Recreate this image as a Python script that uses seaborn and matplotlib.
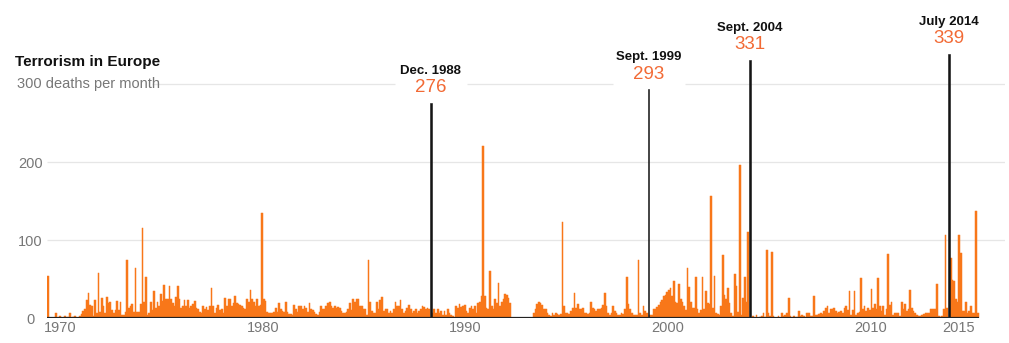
import numpy as np
import pandas as pd
import seaborn as sns
import matplotlib.pyplot as plt
from matplotlib.transforms import blended_transform_factory, ScaledTranslation

# Monthly deaths from terrorist attacks in Europe, Jan 1970 - Dec 2015
deaths_1970s = [
    54, 0, 0, 0, 0, 6, 0, 2, 0, 0, 2, 0,
    1, 7, 0, 1, 2, 0, 0, 3, 5, 9, 12, 23,
    32, 17, 16, 3, 23, 6, 58, 8, 26, 15, 6, 27,
    19, 20, 10, 6, 10, 22, 10, 20, 4, 4, 8, 75,
    13, 15, 18, 8, 64, 8, 8, 18, 115, 20, 52, 4,
    6, 20, 10, 34, 13, 20, 15, 31, 22, 42, 24, 24,
    41, 24, 19, 15, 27, 41, 25, 13, 15, 23, 15, 23,
    13, 15, 18, 22, 13, 11, 8, 6, 15, 12, 14, 10,
    15, 38, 15, 6, 13, 17, 10, 12, 6, 26, 15, 24,
    25, 15, 19, 28, 19, 18, 17, 15, 13, 11, 25, 21,
]
deaths_1980s = [
    36, 24, 21, 16, 24, 15, 17, 134, 24, 22, 8, 7,
    7, 6, 8, 13, 8, 19, 11, 9, 8, 20, 8, 5,
    5, 4, 17, 11, 8, 15, 16, 11, 16, 13, 8, 19,
    11, 10, 8, 5, 4, 8, 16, 11, 11, 15, 19, 20,
    15, 13, 15, 13, 14, 13, 9, 7, 6, 8, 11, 19,
    10, 24, 20, 24, 24, 15, 15, 11, 11, 4, 75, 21,
    9, 6, 6, 21, 11, 23, 27, 9, 11, 12, 6, 9,
    6, 11, 20, 15, 16, 23, 11, 6, 9, 13, 17, 12,
    6, 9, 11, 6, 9, 11, 15, 14, 11, 13, 11, 276,
    6, 11, 7, 11, 6, 9, 4, 9, 4, 11, 6, 4,
]
deaths_1990s = [
    2, 0, 16, 13, 18, 14, 16, 17, 9, 6, 13, 15,
    11, 16, 7, 19, 21, 28, 221, 28, 13, 11, 60, 15,
    11, 24, 19, 45, 15, 21, 24, 31, 30, 26, 19, 0,
    0, 0, 0, 0, 0, 0, 0, 0, 0, 0, 0, 0,
    6, 11, 18, 21, 19, 17, 12, 11, 6, 4, 3, 6,
    4, 6, 5, 4, 5, 123, 16, 6, 7, 5, 9, 13,
    32, 13, 18, 11, 12, 13, 6, 6, 5, 6, 20, 13,
    11, 9, 11, 12, 13, 17, 32, 16, 6, 4, 7, 15,
    9, 6, 4, 4, 6, 5, 11, 53, 18, 11, 6, 4,
    4, 4, 75, 6, 4, 16, 9, 6, 293, 4, 4, 11,
]
deaths_2000s = [
    11, 14, 17, 20, 23, 28, 30, 33, 36, 38, 28, 47,
    21, 19, 43, 24, 20, 15, 10, 64, 40, 21, 13, 13,
    53, 12, 6, 10, 53, 11, 35, 19, 18, 157, 13, 54,
    6, 5, 4, 15, 81, 30, 24, 38, 19, 6, 2, 57,
    41, 8, 196, 4, 26, 53, 20, 110, 331, 0, 2, 0,
    4, 0, 1, 2, 6, 1, 87, 6, 2, 85, 2, 0,
    0, 2, 0, 6, 3, 4, 6, 26, 2, 0, 2, 0,
    1, 9, 3, 4, 2, 0, 6, 6, 2, 2, 28, 4,
    4, 5, 6, 5, 9, 13, 15, 6, 11, 12, 13, 9,
    6, 8, 9, 7, 13, 15, 10, 35, 4, 10, 35, 4,
]
deaths_2010s = [
    6, 8, 51, 11, 15, 9, 13, 10, 37, 13, 18, 12,
    51, 15, 9, 16, 4, 12, 82, 17, 20, 4, 6, 6,
    6, 2, 20, 11, 18, 9, 12, 36, 13, 9, 6, 4,
    3, 3, 4, 5, 6, 6, 7, 11, 12, 12, 12, 44,
    2, 1, 3, 11, 107, 13, 339, 77, 49, 47, 24, 21,
    106, 83, 9, 9, 21, 6, 9, 16, 6, 6, 137, 6,
]

highlight_months = ["1988-12", "1999-09", "2004-09", "2014-07"]
highlight_labels = ["Dec. 1988", "Sept. 1999", "Sept. 2004", "July 2014"]
year_ticks = [1970, 1980, 1990, 2000, 2010, 2015]
y_ticks = [0, 100, 200]

ORANGE = "#f87719"
NUMBER = "#f26a35"
GRID = "#e6e6e6"
AXIS_TEXT = "#777777"

deaths = deaths_1970s + deaths_1980s + deaths_1990s + deaths_2000s + deaths_2010s
months = pd.period_range("1970-01", periods=len(deaths), freq="M").astype(str)
df = pd.DataFrame({"idx": np.arange(len(deaths)), "deaths": deaths, "month": months})
df["kind"] = np.where(df["month"].isin(highlight_months), "peak", "normal")

sns.set_theme(style="white")
plt.rcParams["font.family"] = ["Liberation Sans", "DejaVu Sans"]

W, H = 1009, 343
fig = plt.figure(figsize=(W / 100, H / 100), dpi=100)
ax = fig.add_axes([47 / W, 25 / H, (1005 - 47) / W, (333 - 25) / H])

sns.barplot(data=df, x="idx", y="deaths", hue="kind",
            palette={"normal": ORANGE, "peak": "#151515"},
            native_scale=True, orient="x", dodge=False, width=1.0,
            errorbar=None, legend=False, saturation=1, linewidth=0, ax=ax)

# thin same-coloured outline so narrow bars keep a steady width
for p in ax.patches:
    fc = p.get_facecolor()
    p.set_edgecolor(fc)
    p.set_linewidth(0.35)
    if fc[0] < 0.2:
        p.set_linewidth(0.4)
        p.set_zorder(3)

x_min, x_max = -0.5, 567.2
ax.set_xlim(x_min, x_max)
ax.set_ylim(0, 394.9)
for s in ax.spines.values():
    s.set_visible(False)
ax.grid(False)

# light gridlines
for g in [100, 200]:
    ax.hlines(g, x_min, x_max, color=GRID, lw=0.9, zorder=0)
months_per_px = 12 / 20.25
top_start = (152 - 47) * months_per_px - 0.5
gaps = []
for m in highlight_months:
    i = int(df.index[df["month"] == m][0])
    v = deaths[i]
    if v <= 300 <= v + 55:
        half = 36 * months_per_px
        gaps.append((i - half, i + half))
segs = []
start = top_start
for a, b in sorted(gaps):
    segs.append((start, a))
    start = b
segs.append((start, x_max))
for a, b in segs:
    ax.hlines(300, a, b, color=GRID, lw=0.9, zorder=0)

# baseline
ax.hlines(0, -0.5, len(deaths) - 0.5, color="#222222", lw=1.6, zorder=4)

# x axis labels
ax.set_xticks([(y - 1970) * 12 - 0.5 for y in year_ticks])
ax.set_xticklabels([str(y) for y in year_ticks])
ax.tick_params(axis="x", length=0, pad=2, labelsize=10.5, labelcolor=AXIS_TEXT)
shift = ScaledTranslation(-3 / 100, 0, fig.dpi_scale_trans)
for lab, y in zip(ax.get_xticklabels(), year_ticks):
    if y == year_ticks[-1]:
        lab.set_ha("center")
    else:
        lab.set_ha("left")
        lab.set_transform(lab.get_transform() + shift)

# y axis labels
ax.set_yticks(y_ticks)
ax.set_yticklabels([str(v) for v in y_ticks])
ax.tick_params(axis="y", length=0, pad=12, labelsize=10.5, labelcolor=AXIS_TEXT)
for lab in ax.get_yticklabels():
    lab.set_ha("center")
ax.set_xlabel("")
ax.set_ylabel("")

tr = blended_transform_factory(fig.transFigure, ax.transData)
ax.text(17 / W, 300, "300 deaths per month", transform=tr, ha="left", va="center",
        fontsize=10.5, color=AXIS_TEXT)
fig.text(15 / W, 1 - 62 / H, "Terrorism in Europe", ha="left", va="center",
         fontsize=11, fontweight="bold", color="#111111")

# peak annotations
for m, label in zip(highlight_months, highlight_labels):
    i = int(df.index[df["month"] == m][0])
    v = deaths[i]
    ax.annotate(str(v), xy=(i, v), xytext=(0, 15), textcoords="offset pixels",
                ha="center", va="center", fontsize=13.5, color=NUMBER,
                annotation_clip=False)
    ax.annotate(label, xy=(i, v), xytext=(0, 32), textcoords="offset pixels",
                ha="center", va="center", fontsize=9.5, fontweight="bold",
                color="#111111", annotation_clip=False)

fig.savefig("out.png", dpi=100)
